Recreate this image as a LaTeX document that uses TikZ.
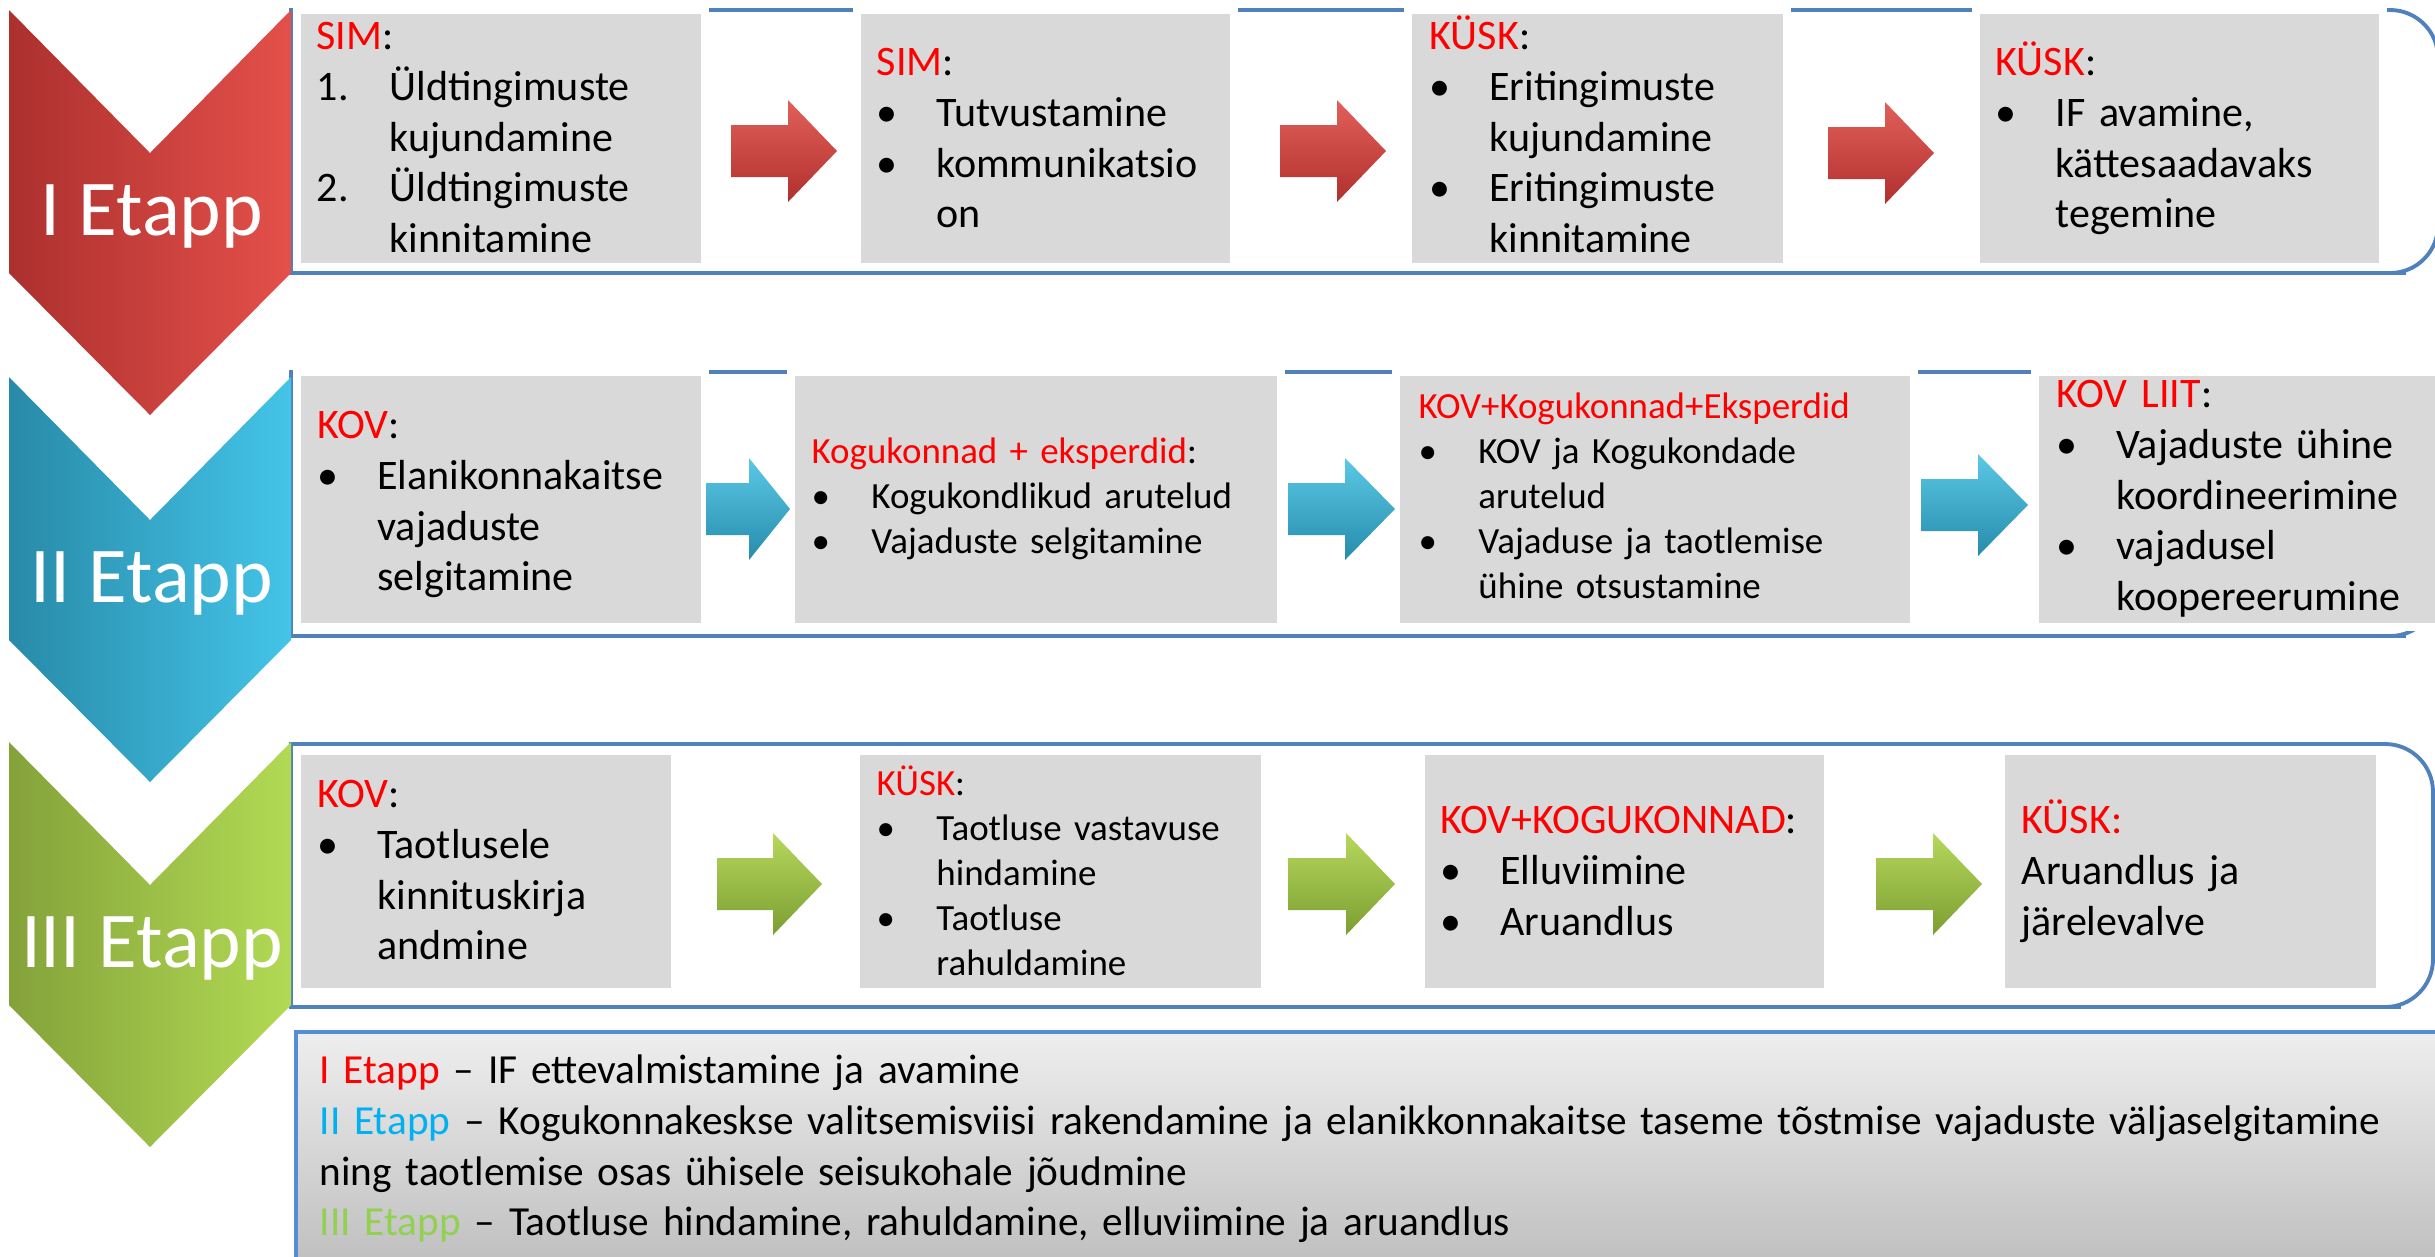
\documentclass[tikz,border=0pt]{standalone}
\usepackage{fontspec}
\setmainfont{Carlito}
\usetikzlibrary{backgrounds}

\definecolor{labred}{RGB}{255,0,0}
\definecolor{etblue}{RGB}{0,176,240}
\definecolor{etgreen}{RGB}{146,208,80}
\definecolor{framebl}{RGB}{79,129,189}
\definecolor{legbl}{RGB}{84,141,212}
\definecolor{boxgray}{RGB}{217,217,217}
\definecolor{leggrayT}{RGB}{238,238,238}
\definecolor{leggrayB}{RGB}{188,188,188}
% chevrons
\definecolor{chredL}{RGB}{172,48,46}
\definecolor{chredR}{RGB}{228,80,74}
\definecolor{chbluL}{RGB}{40,138,168}
\definecolor{chbluR}{RGB}{68,196,232}
\definecolor{chgrnL}{RGB}{132,162,58}
\definecolor{chgrnR}{RGB}{178,218,84}
% block arrows
\definecolor{arRt}{RGB}{226,96,90}
\definecolor{arRb}{RGB}{176,48,46}
\definecolor{arBt}{RGB}{92,200,230}
\definecolor{arBb}{RGB}{38,140,172}
\definecolor{arGt}{RGB}{182,216,92}
\definecolor{arGb}{RGB}{124,158,50}

\newcommand{\lab}[1]{\textcolor{labred}{#1}}
\newcommand{\bl}{\makebox[17pt][l]{\textbullet}}
\newcommand{\ct}{\hspace*{17pt}}
\newcommand{\nr}[1]{\makebox[20.8pt][l]{#1}}
\newcommand{\nct}{\hspace*{20.8pt}}

\tikzset{
  graybox/.style={fill=boxgray, preaction={draw=white, line width=4.5pt}},
  frameline/.style={draw=framebl, line width=1.1pt, fill=white},
  txt/.style={anchor=base west, inner sep=0pt, align=left, text width=150pt,
    font=\fontsize{11.95pt}{14.5pt}\selectfont},
  smalltxt/.style={txt, font=\fontsize{10.5pt}{12.8pt}\selectfont},
  legtxt/.style={txt, text width=660pt, font=\fontsize{11.75pt}{14.5pt}\selectfont},
  etapp/.style={anchor=base, inner sep=0pt, text=white,
    font=\fontsize{22.5pt}{27pt}\selectfont},
}

\begin{document}
\begin{tikzpicture}[x=0.01cm, y=-0.01cm]
  \useasboundingbox (0,0) rectangle (2435,1256);
  \fill[white] (0,0) rectangle (2435,1256);

  % frames of the three stages
  \foreach \ft/\fb/\fr in {10/273/2438, 372/636/2438, 744/1007/2433}
    \draw[frameline] (\fr-80,\fb) -- (291,\fb) -- (291,\ft) -- (\fr-80,\ft)
      [rounded corners=13.6pt] -- (\fr,\ft) -- (\fr,\fb) -- cycle;

  % chevrons
  \foreach \cy/\cl/\cr in {10/chredL/chredR, 377/chbluL/chbluR, 742/chgrnL/chgrnR}
    \shade[left color=\cl, right color=\cr] (9,\cy) -- (150,\cy+143) -- (291,\cy)
      -- (291,\cy+263) -- (150,\cy+405) -- (9,\cy+263) -- cycle;
  \node[etapp] (e1) at (152,235) {I Etapp};
  \node[etapp] (e2) at (152,602) {II Etapp};
  \node[etapp] (e3) at (152,967) {III Etapp};

  % grey boxes
  \foreach \xa/\ya/\xb/\yb in {301/14/701/263, 861/14/1230/263, 1412/14/1783/263, 1980/14/2379/263,
      301/376/701/623, 795/376/1277/623, 1400/376/1910/623, 2039/376/2460/623,
      301/755/671/988, 860/755/1261/988, 1425/755/1824/988, 2005/755/2376/988}
    \fill[graybox] (\xa,\ya) rectangle (\xb,\yb);

  % block arrows
  \foreach \ax/\ay/\al/\hl/\tc/\bc in {731/151/106/49/arRt/arRb, 1280/151/106/49/arRt/arRb,
      1828/153/106/49/arRt/arRb, 706/509/84/41/arBt/arBb, 1288/509/107/50/arBt/arBb,
      1921/505/107/50/arBt/arBb, 717/884/105/49/arGt/arGb, 1288/884/107/49/arGt/arGb,
      1876/884/106/49/arGt/arGb}
    \shade[top color=\tc, bottom color=\bc] (\ax,\ay-26) -- (\ax+\al-\hl,\ay-26)
      -- (\ax+\al-\hl,\ay-51) -- (\ax+\al,\ay) -- (\ax+\al-\hl,\ay+51)
      -- (\ax+\al-\hl,\ay+26) -- (\ax,\ay+26) -- cycle;

  % I Etapp
  \node[txt] (t11) at (316,49) {\lab{SIM}:\\ \nr{1.}Üldtingimuste\\ \nct kujundamine\\
    \nr{2.}Üldtingimuste\\ \nct kinnitamine};
  \node[txt] (t12) at (876,75) {\lab{SIM}:\\ \bl Tutvustamine\\ \bl kommunikatsio\\ \ct on};
  \node[txt] (t13) at (1429,49) {\lab{KÜSK}:\\ \bl Eritingimuste\\ \ct kujundamine\\
    \bl Eritingimuste\\ \ct kinnitamine};
  \node[txt] (t14) at (1995,75) {\lab{KÜSK}:\\ \bl IF avamine,\\ \ct kättesaadavaks\\ \ct tegemine};

  % II Etapp
  \node[txt] (t21) at (317,438) {\lab{KOV}:\\ \bl Elanikonnakaitse\\ \ct vajaduste\\ \ct selgitamine};
  \node[smalltxt] (t22) at (811,463) {\lab{Kogukonnad + eksperdid}:\\
    \bl Kogukondlikud arutelud\\ \bl Vajaduste selgitamine};
  \node[smalltxt] (t23) at (1418,418) {\lab{KOV+Kogukonnad+Eksperdid}\\
    \bl KOV ja Kogukondade\\ \ct arutelud\\ \bl Vajaduse ja taotlemise\\ \ct ühine otsustamine};
  \node[txt] (t24) at (2056,407) {\lab{KOV LIIT}:\\ \bl Vajaduste ühine\\ \ct koordineerimine\\
    \bl vajadusel\\ \ct koopereerumine};

  % III Etapp
  \node[txt] (t31) at (317,807) {\lab{KOV}:\\ \bl Taotlusele\\ \ct kinnituskirja\\ \ct andmine};
  \node[smalltxt] (t32) at (876,795) {\lab{KÜSK}:\\ \bl Taotluse vastavuse\\ \ct hindamine\\
    \bl Taotluse\\ \ct rahuldamine};
  \node[txt] (t33) at (1440,833) {\lab{KOV+KOGUKONNAD}:\\ \bl Elluviimine\\ \bl Aruandlus};
  \node[txt] (t34) at (2021,833) {\lab{KÜSK:}\\ Aruandlus ja\\ järelevalve};

  % legend
  \shade[top color=leggrayT, bottom color=leggrayB] (296,1032) rectangle (2460,1280);
  \draw[legbl, line width=1.1pt] (296,1280) -- (296,1032) -- (2460,1032);
  \node[legtxt] (leg) at (319,1083) {\textcolor{labred}{I Etapp} – IF ettevalmistamine ja avamine\\
    \textcolor{etblue}{II Etapp} – Kogukonnakeskse valitsemisviisi rakendamine ja elanikkonnakaitse taseme tõstmise vajaduste väljaselgitamine\\
    ning taotlemise osas ühisele seisukohale jõudmine\\
    \textcolor{etgreen}{III Etapp} – Taotluse hindamine, rahuldamine, elluviimine ja aruandlus};
\end{tikzpicture}
\end{document}
